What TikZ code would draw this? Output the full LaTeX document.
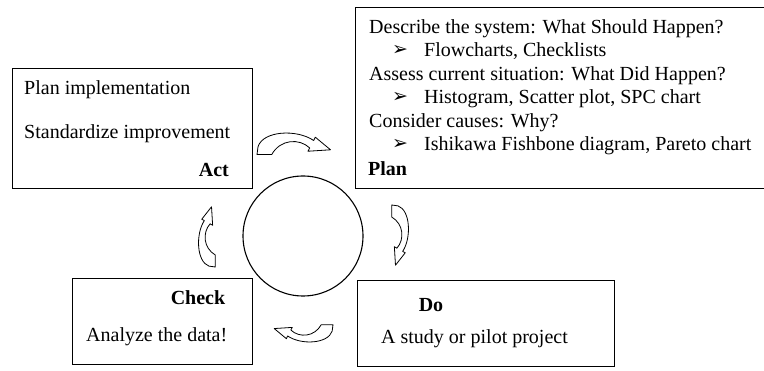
\documentclass[tikz,border=0pt]{standalone}
\usepackage{fontspec}
\setmainfont{Liberation Serif}
\newfontfamily\symfont{DejaVu Sans}
\begin{document}
\begin{tikzpicture}[x=1pt,y=-1pt,
  box/.style={draw=black, line width=1.1pt, inner sep=0pt, anchor=north west},
  txt/.style={font=\fontsize{20}{24}\selectfont, inner sep=0pt, anchor=base west},
  lbl/.style={font=\fontsize{20}{24}\selectfont\bfseries, inner sep=0pt},
  bul/.style={font=\symfont\fontsize{19}{20}\selectfont, inner sep=0pt, anchor=base west},
  cyc/.style={draw=black, fill=white, line width=0.8pt, line join=round},
  cycarrow/.pic={
    \path[cyc] (0,27) -- (1,17) .. controls (6,-3) and (38,-5) .. (54,9.4)
      -- (55.5,5.2) -- (70,21) -- (48.5,22.8) -- (50.2,18.7)
      .. controls (40,6) and (22,8) .. (14,27) -- cycle;
  }]
\useasboundingbox (0,0) rectangle (764,371);
\clip (0,0) rectangle (764,371);

% Act
\node[box, minimum width=240pt, minimum height=120pt] (actbox) at (12,68) {};
\node[txt] (act1) at (24,95) {Plan implementation};
\node[txt] (act2) at (24,139) {Standardize improvement};
\node[lbl, anchor=base east] (actlbl) at (229,177) {Act};

% Plan (box runs past the right edge)
\node[box, minimum width=440pt, minimum height=181pt] (planbox) at (355,7) {};
\node[txt] (p1) at (369,34) {Describe the system: What Should Happen?};
\node[bul] (b1) at (392,56) {➢};
\node[txt] (p2) at (424,57) {Flowcharts, Checklists};
\node[txt] (p3) at (369,81) {Assess current situation: What Did Happen?};
\node[bul] (b2) at (392,103) {➢};
\node[txt] (p4) at (424,104) {Histogram, Scatter plot, SPC chart};
\node[txt] (p5) at (369,127.5) {Consider causes: Why?};
\node[bul] (b3) at (392,150) {➢};
\node[txt] (p6) at (424,151) {Ishikawa Fishbone diagram, Pareto chart};
\node[lbl, anchor=base west] (planlbl) at (368,176) {Plan};

% Check
\node[box, minimum width=180pt, minimum height=86pt] (checkbox) at (72,278) {};
\node[lbl, anchor=base] (checklbl) at (198,305) {Check};
\node[txt] (check1) at (86,342) {Analyze the data!};

% Do
\node[box, minimum width=257pt, minimum height=86pt] (dobox) at (357,280) {};
\node[lbl, anchor=base] (dolbl) at (431,312) {Do};
\node[txt] (do1) at (381,344) {A study or pilot project};

% centre circle
\node[draw=black, line width=1.1pt, circle, minimum size=120pt, inner sep=0pt] (hub) at (303,236) {};

% curved arrows of the cycle
\pic[xscale=1.05, yscale=0.8] at (257,133) {cycarrow};
\pic[rotate=-90, xscale=0.86, yscale=0.62] at (408.5,205) {cycarrow};
\pic[rotate=180, xscale=0.84, yscale=0.64] at (333,342) {cycarrow};
\pic[rotate=90, xscale=0.86, yscale=0.62] at (198.5,267) {cycarrow};
\end{tikzpicture}
\end{document}
